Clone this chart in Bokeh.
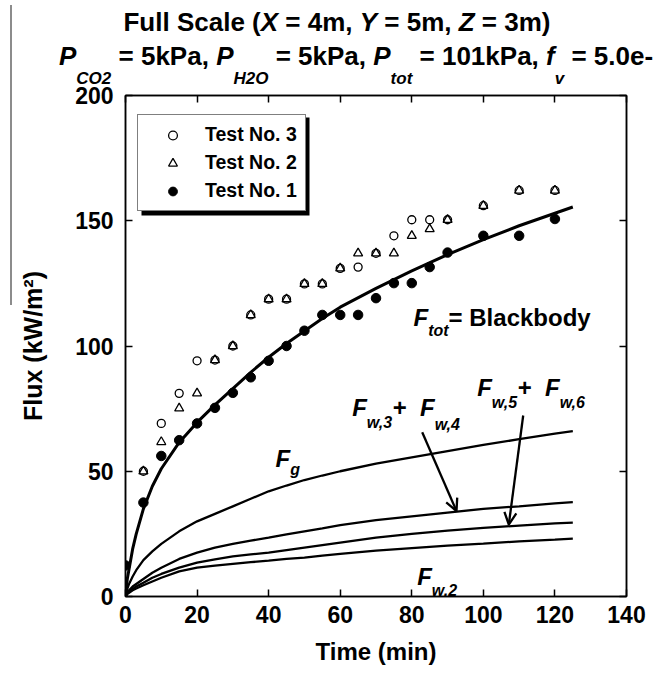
from bokeh.plotting import figure
from bokeh.layouts import column
from bokeh.models import (Range1d, LinearAxis, FixedTicker, Label, Legend, LegendItem,
                          Arrow, OpenHead, BoxAnnotation, CustomJSTickFormatter, Div)
from bokeh.embed import file_html
from bokeh.resources import INLINE

# ---------------- data ----------------
x_ticks = [0, 20, 40, 60, 80, 100, 120, 140]
y_ticks = [0, 50, 100, 150, 200]

t_test1 = [0, 5, 10, 15, 20, 25, 30, 35, 40, 45, 50, 55, 60, 65, 70, 75, 80, 85, 90, 100, 110, 120]
test1 = [12.4, 37.5, 56.1, 62.4, 69.1, 75.3, 81.3, 87.5, 94.1, 100, 106.1, 112.4, 112.4, 112.4,
         119.1, 125.1, 125.1, 131.5, 137.3, 144, 144, 150.7]

t_test23 = [5, 10, 15, 20, 25, 30, 35, 40, 45, 50, 55, 60, 65, 70, 75, 80, 85, 90, 100, 110, 120]
test3 = [50, 69.1, 81.1, 94.1, 94.4, 100, 112.4, 118.7, 118.7, 124.8, 124.8, 131, 131.5,
         137, 144, 150.4, 150.4, 150.4, 156, 162.1, 162.1]
test2 = [50, 61.7, 75.1, 81.1, 94.4, 100, 112.4, 118.7, 118.7, 124.8, 124.8, 131, 137,
         137, 137, 144, 146.7, 150.4, 156, 162.1, 162.1]

t_curve = [0, 0.5, 1, 2, 3, 5, 7.5, 10, 15, 20, 25, 30, 35, 40, 45, 50, 55, 60, 70, 80, 90, 100, 110, 120, 125]
f_tot = [0, 7, 11, 19, 25, 35, 44, 51, 61.5, 69.5, 76.5, 83, 89.5, 95.5, 101, 106, 111, 115.5,
         123, 130, 136.5, 142.5, 148, 153, 155.5]
f_g = [0, 3, 5, 8, 10.5, 14.5, 18, 21, 26, 30, 33, 36, 39, 42, 44.3, 46.5, 48.3, 50,
       53, 55.5, 58, 60.5, 62.8, 65, 66]
f_w34 = [0, 1.5, 2.5, 4, 5, 7, 9.5, 11.5, 15, 17.5, 19.5, 21, 22.3, 23.5, 24.8, 26, 27.2, 28.5,
         30.5, 32, 33.5, 35, 36, 37.2, 37.7]
f_w56 = [0, 1.2, 2, 3, 4, 5.5, 7.5, 9, 11.5, 13.5, 14.8, 16, 16.8, 17.5, 18.5, 19.5, 20.5, 21.5,
         23.5, 25, 26.3, 27.4, 28.3, 29.2, 29.5]
f_w2 = [0, 1, 1.5, 2.5, 3.2, 4.5, 6, 7.5, 10, 11.5, 12.3, 13, 13.7, 14.3, 15, 15.5, 16.3, 17,
        18.3, 19.3, 20.3, 21.1, 22, 22.7, 23.1]

# ---------------- layout helpers ----------------
FONT = "Liberation Sans"
PAGE_W, PAGE_H = 665, 674
DIV_H = 76
FL, FT, FW, FH = 125, 95, 501, 501          # frame in page pixels
XMAX, YMAX = 140, 200


def xd(px):
    return (px - FL) / FW * XMAX


def yd(py):
    return (FT + FH - py) / FH * YMAX


AW = {' ': 278, ',': 278, '+': 584, '=': 584, 'F': 611, 'b': 611, 'B': 722, 'a': 556, 'c': 556,
      'd': 611, 'g': 611, 'k': 556, 'l': 278, 'o': 611, 't': 333, 'w': 778, 'y': 556}


def tw(s, size):
    return sum(AW.get(c, 556) for c in s) / 1000.0 * size


# ---------------- title (HTML, above the plot; may overflow into the plot's top border) ----
sub = "font-size:17px;position:relative;top:19px;font-style:italic"
line1 = "Full Scale (<i>X</i> = 4m, <i>Y</i> = 5m, <i>Z</i> = 3m)"
line2 = (f"<i>P</i><span style='{sub}'>CO2</span> = 5kPa, "
         f"<i>P</i><span style='{sub}'>H2O</span> = 5kPa, "
         f"<i>P</i><span style='{sub}'>tot</span> = 101kPa, "
         f"<i>f</i><span style='{sub}'>v</span> = 5.0e-")
title_html = (
    f"<div style=\"position:relative;width:{PAGE_W}px;height:{DIV_H}px;overflow:visible;"
    f"font-family:'{FONT}',sans-serif;font-weight:bold;color:#000;white-space:nowrap;\">"
    f"<div style='position:absolute;left:10px;top:5px;width:1.5px;height:300px;background:#8c8c8c;'></div>"
    f"<div style='position:absolute;left:37px;top:9px;width:600px;text-align:center;"
    f"font-size:26px;line-height:26px;'>{line1}</div>"
    f"<div style='position:absolute;left:59px;top:43px;font-size:26px;line-height:26px;'>{line2}</div>"
    f"</div>")
div = Div(text=title_html, width=PAGE_W, height=DIV_H, margin=(0, 0, 0, 0),
          styles={"overflow": "visible", "position": "relative", "z-index": "5"})

# ---------------- figure ----------------
p = figure(frame_width=FW, frame_height=FH, x_range=Range1d(0, XMAX), y_range=Range1d(0, YMAX),
           output_backend="svg", toolbar_location=None, margin=(0, 0, 0, 0),
           min_border_left=FL, min_border_top=FT - DIV_H,
           min_border_right=PAGE_W - FL - FW, min_border_bottom=PAGE_H - FT - FH)
p.grid.visible = False
p.outline_line_color = "black"
p.outline_line_width = 1.5
p.background_fill_color = "white"
p.border_fill_color = "white"
p.border_fill_alpha = 0


def style_axis(ax, labels=True):
    ax.axis_line_color = "black"
    ax.axis_line_width = 1.5
    ax.major_tick_in = 7
    ax.major_tick_out = 0
    ax.major_tick_line_width = 1.5
    ax.minor_tick_line_color = None
    ax.major_label_text_font = FONT
    ax.major_label_text_font_style = "bold"
    ax.major_label_text_font_size = "23px"
    ax.major_label_text_color = "black"
    ax.axis_label_text_font = FONT
    ax.axis_label_text_font_style = "bold"
    ax.axis_label_text_font_size = "24px"
    ax.axis_label_text_color = "black"
    if not labels:
        ax.formatter = CustomJSTickFormatter(code="return ''")
        ax.major_label_standoff = 0


p.xaxis.ticker = FixedTicker(ticks=x_ticks)
p.yaxis.ticker = FixedTicker(ticks=y_ticks)
style_axis(p.xaxis[0])
style_axis(p.yaxis[0])
p.xaxis.major_label_standoff = 9
p.yaxis.major_label_standoff = 12
p.xaxis.axis_label = "Time (min)"
p.xaxis.axis_label_standoff = 12
p.yaxis.axis_label = "Flux (kW/m²)"
p.yaxis.axis_label_text_font_size = "25px"
p.yaxis.axis_label_standoff = 25

top_ax = LinearAxis(ticker=FixedTicker(ticks=x_ticks))
right_ax = LinearAxis(ticker=FixedTicker(ticks=y_ticks))
style_axis(top_ax, labels=False)
style_axis(right_ax, labels=False)
p.add_layout(top_ax, "above")
p.add_layout(right_ax, "right")

# curves
p.line(t_curve, f_tot, line_color="black", line_width=3)
for fc in (f_g, f_w34, f_w56, f_w2):
    p.line(t_curve, fc, line_color="black", line_width=2.3)

# measurements
r3 = p.scatter(t_test23, test3, marker="circle", size=8, fill_color=None,
               line_color="black", line_width=1.3)
r2 = p.scatter(t_test23, test2, marker="triangle", size=9, fill_color=None,
               line_color="black", line_width=1.3)
r1 = p.scatter(t_test1, test1, marker="circle", size=9.5, fill_color="black", line_color="black")

# legend shadow + legend
LEG_L, LEG_R, LEG_B, LEG_H = 137, 305, 211, 98
p.add_layout(BoxAnnotation(left=xd(LEG_L + 4), right=xd(LEG_R + 4), top=yd(LEG_B - LEG_H + 4),
                           bottom=yd(LEG_B + 4), fill_color="black", fill_alpha=1,
                           line_color=None))
legend = Legend(items=[LegendItem(label="Test No. 3", renderers=[r3]),
                       LegendItem(label="Test No. 2", renderers=[r2]),
                       LegendItem(label="Test No. 1", renderers=[r1])],
                location=(LEG_L - FL, FT + FH - LEG_B),
                label_text_font=FONT, label_text_font_style="bold", label_text_color="black",
                label_text_font_size="19.5px", padding=8, spacing=5, glyph_width=53,
                glyph_height=22, label_height=22, label_standoff=6,
                border_line_color="black", border_line_width=1.5,
                background_fill_color="white", background_fill_alpha=1)
p.add_layout(legend, "center")


def run(x0, base, segs):
    x = x0
    for text, size, italic, drop in segs:
        p.add_layout(Label(x=xd(x), y=yd(base + drop), text=text, text_font=FONT,
                           text_font_size=f"{size}px",
                           text_font_style="bold italic" if italic else "bold",
                           text_baseline="alphabetic", text_align="left", text_color="black"))
        x += tw(text, size)


# curve annotations
run(413, 317, [("F", 24, True, 0), ("tot", 16, True, 13), (" = Blackbody", 24, False, 0)])
run(351.7, 407.3, [("F", 24, True, 0), ("w,3", 16, True, 14.4), (" + ", 24, False, 0),
                   ("F", 24, True, 0), ("w,4", 16, True, 17)])
run(476.7, 386.7, [("F", 24, True, 0), ("w,5", 16, True, 15), (" + ", 24, False, 0),
                   ("F", 24, True, 0), ("w,6", 16, True, 15)])
run(275, 458.3, [("F", 24, True, 0), ("g", 16, True, 11)])
run(416.7, 575.7, [("F", 24, True, 0), ("w,2", 16, True, 14.3)])

# arrows
p.add_layout(Arrow(end=OpenHead(size=12, line_width=2.3, line_color="black"),
                   x_start=xd(421.7), y_start=yd(431.7), x_end=xd(456), y_end=yd(510.5),
                   line_width=2.3, line_color="black"))
p.add_layout(Arrow(end=OpenHead(size=12, line_width=2.3, line_color="black"),
                   x_start=xd(522.7), y_start=yd(415), x_end=xd(508.3), y_end=yd(524),
                   line_width=2.3, line_color="black"))

layout = column(div, p, spacing=0)
open("out.html", "w").write(file_html(layout, INLINE))
